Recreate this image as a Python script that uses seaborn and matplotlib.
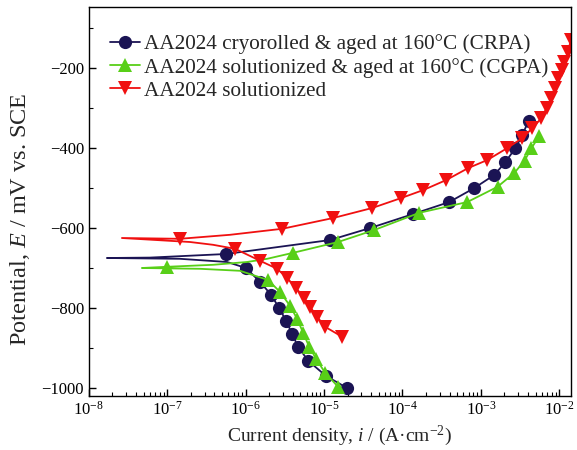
import numpy as np
import pandas as pd
import matplotlib
matplotlib.use("Agg")
import matplotlib.pyplot as plt
from matplotlib.ticker import MultipleLocator, LogLocator
import seaborn as sns

# Potentiodynamic polarization curves (cathodic end -> corrosion tip -> anodic end)
crpa_current = [1.97e-5, 1.06e-5, 6.27e-6, 4.67e-6, 3.92e-6, 3.28e-6, 2.67e-6, 2.11e-6,
                1.53e-6, 1.01e-6, 5.8e-7, 1.45e-7, 1.7e-8, 6.0e-8, 5.62e-7, 1.20e-5,
                3.88e-5, 1.37e-4, 3.96e-4, 8.26e-4, 1.49e-3, 2.06e-3, 2.76e-3, 3.39e-3, 4.05e-3]
crpa_potential = [-1000, -970, -932, -897, -865, -832, -800, -767, -735, -700, -685, -677,
                  -675, -674, -665, -630, -600, -565, -535, -500, -467, -435, -400, -367, -332]
crpa_marked = list(range(0, 10)) + list(range(14, 25))

cgpa_current = [1.51e-5, 1.03e-5, 7.92e-6, 6.46e-6, 5.41e-6, 4.53e-6, 3.69e-6, 2.75e-6,
                1.93e-6, 8.47e-7, 2.62e-7, 4.75e-8, 9.9e-8, 3.84e-7, 1.04e-6, 1.88e-6,
                4.03e-6, 1.51e-5, 4.37e-5, 1.64e-4, 6.73e-4, 1.63e-3, 2.68e-3, 3.60e-3,
                4.42e-3, 5.58e-3]
cgpa_potential = [-997, -962, -927, -897, -862, -827, -795, -760, -730, -707, -702, -700,
                  -697, -692, -685, -677, -662, -635, -605, -562, -535, -497, -462, -432,
                  -400, -370]
cgpa_marked = list(range(0, 9)) + [12] + list(range(16, 26))

solu_current = [1.70e-5, 1.03e-5, 8.16e-6, 6.64e-6, 5.57e-6, 4.40e-6, 3.38e-6, 2.52e-6,
                1.53e-6, 7.33e-7, 3.84e-7, 1.95e-7, 2.64e-8, 1.45e-7, 6.32e-7, 2.92e-6,
                1.31e-5, 4.11e-5, 9.66e-5, 1.85e-4, 3.62e-4, 6.92e-4, 1.21e-3, 2.18e-3,
                3.39e-3, 4.55e-3, 5.93e-3, 6.88e-3, 7.94e-3, 8.69e-3, 9.77e-3, 1.07e-2,
                1.16e-2, 1.31e-2, 1.39e-2]
solu_potential = [-872, -847, -822, -797, -775, -750, -725, -702, -682, -652, -642, -635,
                  -625, -627, -617, -602, -575, -550, -525, -505, -480, -450, -430, -400,
                  -375, -350, -325, -300, -275, -250, -225, -205, -185, -160, -130]
solu_marked = list(range(0, 10)) + [13] + list(range(15, 35))

labels = ["AA2024 cryorolled & aged at 160\u00b0C (CRPA)",
          "AA2024 solutionized & aged at 160\u00b0C (CGPA)",
          "AA2024 solutionized"]

sns.set_style("ticks")
plt.rcParams["font.family"] = ["Liberation Serif", "DejaVu Serif"]
plt.rcParams["mathtext.fontset"] = "custom"
plt.rcParams["mathtext.rm"] = "Liberation Serif"
plt.rcParams["mathtext.it"] = "Liberation Serif:italic"

fig = plt.figure(figsize=(5.77, 4.5), dpi=100)
ax = fig.add_axes([0.154, 0.12, 0.836, 0.864])

series = [
    (crpa_current, crpa_potential, crpa_marked, labels[0], "#1b1454", "o", 9.5),
    (cgpa_current, cgpa_potential, cgpa_marked, labels[1], "#58cf18", "^", 10.5),
    (solu_current, solu_potential, solu_marked, labels[2], "#f01010", "v", 10.5),
]

for cur, pot, marked, lab, col, mk, ms in series:
    df = pd.DataFrame({"current": cur, "potential": pot})
    sns.lineplot(data=df, x="current", y="potential", sort=False, estimator=None,
                 ax=ax, color=col, lw=1.3, marker=mk, markersize=ms,
                 markeredgewidth=0, markevery=marked, label=lab)

ax.set_xscale("log")
ax.set_xlim(1e-8, 1.42e-2)
ax.set_ylim(-1020, -48)
ax.xaxis.set_major_locator(LogLocator(base=10, numticks=12))
ax.xaxis.set_minor_locator(LogLocator(base=10, subs=np.arange(2, 10), numticks=12))
ax.yaxis.set_major_locator(MultipleLocator(200))
ax.yaxis.set_minor_locator(MultipleLocator(100))
ax.tick_params(which="both", direction="in", top=False, right=False, colors="black",
               labelsize=12)
ax.tick_params(which="major", length=5, width=1)
ax.tick_params(which="minor", length=3, width=0.8)
for sp in ax.spines.values():
    sp.set_color("black")
    sp.set_linewidth(1.0)

ax.set_xlabel("Current density, $\\mathit{i}$ / (A\u00b7cm$^{-2}$)", fontsize=14)
ax.xaxis.set_label_coords(0.52, -0.072)
ax.set_ylabel(r"Potential, $\mathit{E}$ / mV vs. SCE", fontsize=17.5)
ax.yaxis.set_label_coords(-0.118, 0.455)

leg = ax.legend(loc="upper left", bbox_to_anchor=(0.044, 0.93), frameon=False,
                fontsize=15.3, handlelength=1.4, handletextpad=0.2,
                labelspacing=0.16, borderpad=0, borderaxespad=0)

fig.savefig("out.png", dpi=100)
